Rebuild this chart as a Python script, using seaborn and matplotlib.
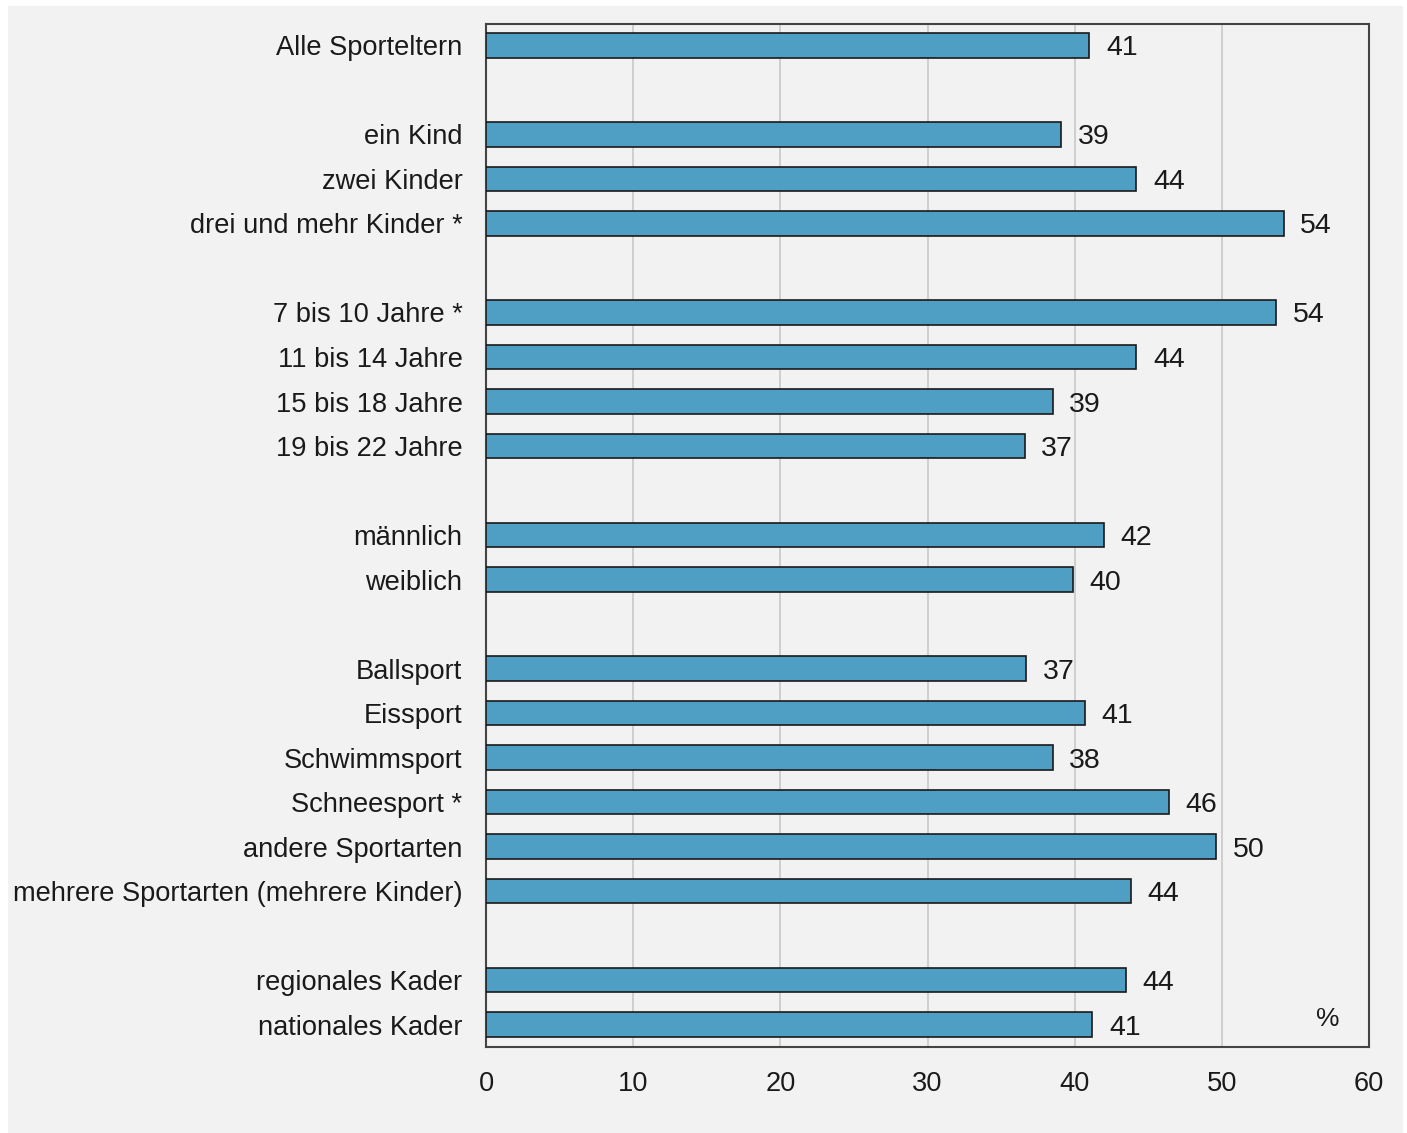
import numpy as np
import pandas as pd
import seaborn as sns
import matplotlib.pyplot as plt
from matplotlib.patches import Rectangle

# row labels (blank rows are group separators)
groups = [
    ["Alle Sporteltern"],
    ["ein Kind", "zwei Kinder", "drei und mehr Kinder *"],
    ["7 bis 10 Jahre *", "11 bis 14 Jahre", "15 bis 18 Jahre", "19 bis 22 Jahre"],
    ["männlich", "weiblich"],
    ["Ballsport", "Eissport", "Schwimmsport", "Schneesport *", "andere Sportarten",
     "mehrere Sportarten (mehrere Kinder)"],
    ["regionales Kader", "nationales Kader"],
]
values = [41.0, 39.1, 44.2, 54.2, 53.7, 44.2, 38.5, 36.6, 42.0, 39.9,
          36.7, 40.7, 38.5, 46.4, 49.6, 43.8, 43.5, 41.2]
labels = ["41", "39", "44", "54", "54", "44", "39", "37", "42", "40",
          "37", "41", "38", "46", "50", "44", "44", "41"]

order = []
for i, g in enumerate(groups):
    if i > 0:
        order.append(" " * i)
    order += g
cats = [c for g in groups for c in g]
df = pd.DataFrame({"cat": cats, "val": values})

sns.set_style("white")
plt.rcParams["font.family"] = ["Liberation Sans", "DejaVu Sans"]

fig = plt.figure(figsize=(14.07, 11.33), dpi=100, facecolor="white")
fig.patches.append(Rectangle((8 / 1407, 0), 1395 / 1407, 1 - 6 / 1133,
                             transform=fig.transFigure, facecolor="#f2f2f2",
                             edgecolor="none", zorder=-10))
ax = fig.add_axes([486 / 1407, 1 - 1047 / 1133, 883 / 1407, 1023 / 1133])
ax.set_facecolor("#f2f2f2")

sns.barplot(data=df, x="val", y="cat", order=order, color="#4e9fc3",
            saturation=1, width=0.55, edgecolor="#1a1a1a", linewidth=1.2,
            ax=ax, zorder=3)
texts = ax.bar_label(ax.containers[0], labels=labels, padding=12,
                     fontsize=20.5, color="#1a1a1a")
for t in texts:
    t.set_va("center_baseline")

ax.set_xlim(0, 60)
ax.set_ylim(22.5, -0.48)
ax.set_xticks(range(0, 61, 10))
ax.grid(axis="x", color="#c8c8c8", linewidth=1.2, zorder=0)
ax.set_axisbelow(True)
ax.tick_params(axis="both", length=0, labelsize=19.6, colors="#1a1a1a")
ax.tick_params(axis="y", pad=17)
ax.tick_params(axis="x", pad=17.5)
ax.set_xlabel("")
ax.set_ylabel("")
for s in ax.spines.values():
    s.set_color("#444444")
    s.set_linewidth(1.5)
ax.text(0.953, 0.027, "%", transform=ax.transAxes, ha="center", va="center",
        fontsize=19, color="#1a1a1a")

fig.savefig("out.png", dpi=100, facecolor="white")
